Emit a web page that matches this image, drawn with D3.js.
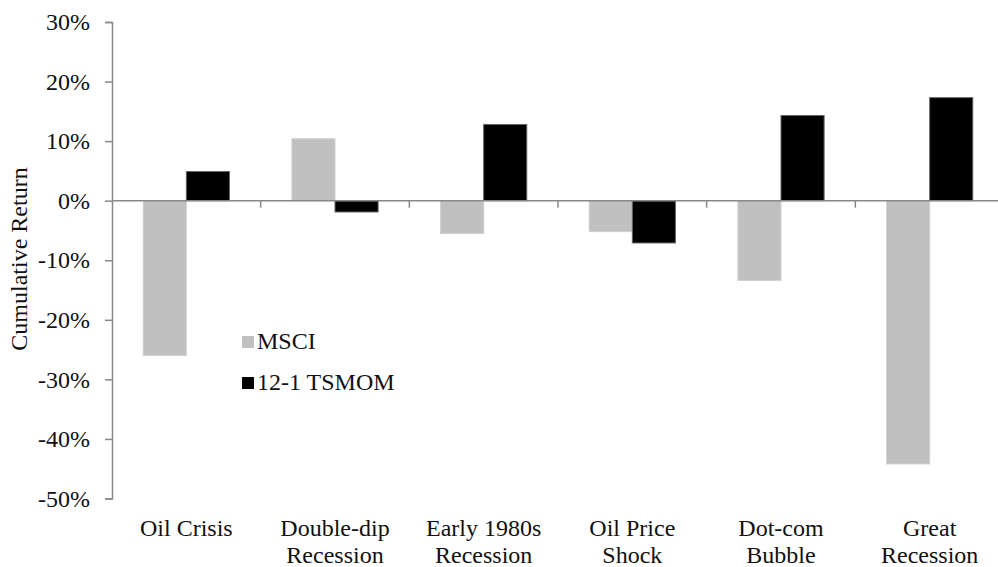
<!DOCTYPE html>
<html>
<head>
<meta charset="utf-8">
<script src="https://cdn.jsdelivr.net/npm/d3@7"></script>
<style>
  body { margin: 0; background: white; }
  text { font-family: "Liberation Serif", "Times New Roman", serif; fill: #111; }
</style>
</head>
<body>
<div id="container"></div>
<script>
let w = 998;
let h = 567;

let categories = ["Oil Crisis", "Double-dip Recession", "Early 1980s Recession", "Oil Price Shock", "Dot-com Bubble", "Great Recession"];
let catLines = [["Oil Crisis"], ["Double-dip", "Recession"], ["Early 1980s", "Recession"], ["Oil Price", "Shock"], ["Dot-com", "Bubble"], ["Great", "Recession"]];
let seriesNames = ["MSCI", "12-1 TSMOM"];
let msci = [-0.260, 0.104, -0.055, -0.052, -0.134, -0.442];
let tsmom = [0.049, -0.019, 0.128, -0.071, 0.143, 0.173];
let yTicks = [-0.5, -0.4, -0.3, -0.2, -0.1, 0, 0.1, 0.2, 0.3];
let colors = ["#c0c0c0", "#000000"];

let viz = d3.select("#container")
  .append("svg")
    .attr("width", w)
    .attr("height", h)
    .style("background-color", "white")
;

let y = d3.scaleLinear().domain([-0.5, 0.3]).range([498.5, 22]);
let x0 = d3.scaleBand().domain(categories).range([112, 1004]).paddingInner(0.42).paddingOuter(0.21);
let x1 = d3.scaleBand().domain(seriesNames).range([0, x0.bandwidth()]);

// y axis
let yAxis = viz.append("g")
    .attr("transform", "translate(112,0)")
    .call(d3.axisLeft(y).tickValues(yTicks).tickSize(7).tickPadding(15)
      .tickFormat(d => Math.round(d * 100) + "%"))
;
yAxis.select(".domain").attr("stroke", "#888").attr("stroke-width", 1.5);
yAxis.selectAll(".tick line").attr("stroke", "#888").attr("stroke-width", 1.5);
yAxis.selectAll(".tick text")
    .style("font-size", "24px")
    .style("font-family", "Liberation Serif")
    .attr("fill", "#111")
;

// bars
let rows = categories.map((c, i) => ({cat: c, vals: [msci[i], tsmom[i]]}));
let groups = viz.selectAll(".grp").data(rows).enter()
  .append("g")
    .attr("class", "grp")
    .attr("transform", d => "translate(" + x0(d.cat) + ",0)")
;
groups.selectAll("rect")
  .data(d => d.vals.map((v, j) => ({name: seriesNames[j], v: v, j: j})))
  .enter()
  .append("rect")
    .attr("x", d => x1(d.name))
    .attr("width", x1.bandwidth())
    .attr("y", d => y(Math.max(0, d.v)))
    .attr("height", d => Math.abs(y(d.v) - y(0)))
    .attr("fill", d => colors[d.j])
    .attr("stroke", d => d.j == 1 ? "#666" : "#d0d0d0")
    .attr("stroke-width", 1)
;

// zero line
viz.append("line")
    .attr("x1", 112)
    .attr("x2", w)
    .attr("y1", y(0))
    .attr("y2", y(0))
    .style("stroke", "#888")
    .style("stroke-width", 1.5)
;

// category separator ticks
viz.selectAll(".ctick").data(categories.slice(1)).enter()
  .append("line")
    .attr("x1", d => x0(d) - x0.step() * x0.paddingInner() / 2)
    .attr("x2", d => x0(d) - x0.step() * x0.paddingInner() / 2)
    .attr("y1", y(0))
    .attr("y2", y(0) + 7)
    .style("stroke", "#888")
    .style("stroke-width", 1.5)
;

// category labels
catLines.forEach((lines, i) => {
  let cx = x0(categories[i]) + x0.bandwidth() / 2;
  lines.forEach((t, k) => {
    viz.append("text")
        .text(t)
        .attr("x", cx)
        .attr("y", 536 + k * 27)
        .attr("text-anchor", "middle")
        .style("font-size", "24px")
    ;
  });
});

// y label
viz.append("text")
    .text("Cumulative Return")
    .attr("transform", "translate(27,259) rotate(-90)")
    .attr("text-anchor", "middle")
    .style("font-size", "24px")
;

// legend
let legend = viz.selectAll(".leg").data(seriesNames).enter()
  .append("g")
    .attr("class", "leg")
    .attr("transform", (d, i) => "translate(242," + (336 + i * 41) + ")")
;
legend.append("rect")
    .attr("width", 12)
    .attr("height", 12)
    .attr("fill", (d, i) => colors[i])
;
legend.append("text")
    .text(d => d)
    .attr("x", 15)
    .attr("y", 13)
    .style("font-size", "24px")
;
</script>
</body>
</html>
